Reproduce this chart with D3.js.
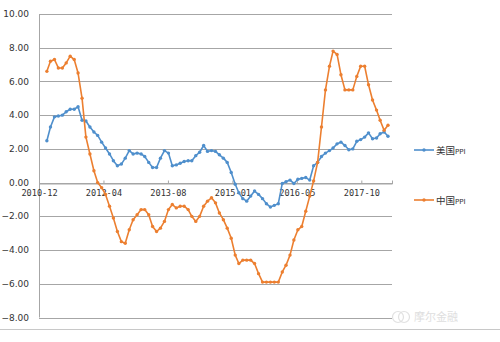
<!DOCTYPE html>
<html>
<head>
<meta charset="utf-8">
<script src="https://cdn.jsdelivr.net/npm/d3@7"></script>
<style>
  html, body { margin: 0; padding: 0; background: #fff; }
  svg { display: block; }
</style>
</head>
<body>
<svg id="chart" width="500" height="342"></svg>
<script>
// Monthly year-on-year PPI, Jan 2011 – Apr 2018
const firstMonth = "2011-01";
const monthCount = 88;

const usPPI = [
  2.48, 3.3, 3.9, 3.95, 4.0, 4.2, 4.35, 4.35, 4.5, 3.7, 3.65, 3.3,
  3.0, 2.8, 2.4, 2.05, 1.7, 1.3, 1.0, 1.1, 1.45, 1.9, 1.7, 1.75,
  1.7, 1.55, 1.2, 0.9, 0.9, 1.45, 1.9, 1.75, 1.0, 1.05, 1.15, 1.25,
  1.3, 1.3, 1.6, 1.8, 2.2, 1.85, 1.9, 1.85, 1.65, 1.45, 1.2, 0.6,
  -0.1, -0.6, -0.95, -1.1, -0.8, -0.5, -0.7, -0.95, -1.25, -1.45, -1.35, -1.25,
  -0.05, 0.05, 0.15, -0.05, 0.2, 0.25, 0.3, 0.15, 1.0, 1.2, 1.55, 1.75,
  1.9, 2.05, 2.3, 2.4, 2.2, 1.95, 2.0, 2.45, 2.55, 2.7, 2.95, 2.6,
  2.65, 2.9, 3.0, 2.75
];

const cnPPI = [
  6.6, 7.2, 7.3, 6.8, 6.8, 7.1, 7.5, 7.3, 6.5, 5.0, 2.7, 1.7,
  0.7, 0.0, -0.3, -0.7, -1.4, -2.1, -2.9, -3.5, -3.6, -2.8, -2.2, -1.9,
  -1.6, -1.6, -1.9, -2.6, -2.9, -2.7, -2.3, -1.6, -1.3, -1.5, -1.4, -1.4,
  -1.6, -2.0, -2.3, -2.0, -1.4, -1.1, -0.9, -1.2, -1.8, -2.2, -2.7, -3.3,
  -4.3, -4.8, -4.6, -4.6, -4.6, -4.8, -5.4, -5.9, -5.9, -5.9, -5.9, -5.9,
  -5.3, -4.9, -4.3, -3.4, -2.8, -2.6, -1.7, -0.8, 0.1, 1.2, 3.3, 5.5,
  6.9, 7.8, 7.6, 6.4, 5.5, 5.5, 5.5, 6.3, 6.9, 6.9, 5.8, 4.9,
  4.3, 3.7, 3.1, 3.4
];

const seriesNames = ["美国", "中国"];
const yTicks = [10, 8, 6, 4, 2, 0, -2, -4, -6, -8];
const xTickDates = ["2010-12-01", "2012-04-14", "2013-08-27", "2015-01-09", "2016-05-23", "2017-10-05"];
const xTickLabels = ["2010-12", "2012-04", "2013-08", "2015-01", "2016-05", "2017-10"];

const colors = { us: "#4f8fcc", cn: "#ec7f30" };

const parseDay = d3.timeParse("%Y-%m-%d");
const parseMonth = d3.timeParse("%Y-%m");
const start = parseMonth(firstMonth);
// each observation sits at the last day of its month
const dates = d3.range(monthCount).map(i => d3.timeDay.offset(d3.timeMonth.offset(start, i + 1), -1));

const svg = d3.select("#chart");

const x = d3.scaleTime()
  .domain([parseDay("2010-12-01"), parseDay("2018-05-31")])
  .range([39, 392]);
const y = d3.scaleLinear().domain([-8, 10]).range([317.5, 14]);

// horizontal gridlines
svg.append("g")
  .selectAll("line")
  .data(yTicks)
  .join("line")
  .attr("x1", x.range()[0]).attr("x2", x.range()[1])
  .attr("y1", d => Math.round(y(d)) + 0.5).attr("y2", d => Math.round(y(d)) + 0.5)
  .attr("stroke", "#a6a6a6").attr("stroke-width", 1);

// value axis line
svg.append("line")
  .attr("x1", x.range()[0] + 0.5).attr("x2", x.range()[0] + 0.5)
  .attr("y1", y(10)).attr("y2", y(-8))
  .attr("stroke", "#a6a6a6");

// value axis labels
svg.append("g")
  .selectAll("text")
  .data(yTicks)
  .join("text")
  .attr("x", 29)
  .attr("y", d => y(d))
  .attr("dy", "0.35em")
  .attr("text-anchor", "end")
  .attr("font-family", "DejaVu Sans, sans-serif")
  .attr("font-size", 9)
  .attr("fill", "#333")
  .text(d => d3.format(".2f")(d));

// date axis drawn on the zero line
const xAxis = d3.axisBottom(x)
  .tickValues(xTickDates.map(parseDay))
  .tickFormat((d, i) => xTickLabels[i])
  .tickSize(-3)
  .tickPadding(6);

const gx = svg.append("g")
  .attr("transform", `translate(0,${Math.round(y(0)) + 0.5})`)
  .call(xAxis);
gx.select(".domain").attr("stroke", "#a6a6a6");
gx.selectAll(".tick line").attr("stroke", "#a6a6a6");
gx.selectAll(".tick text")
  .attr("font-family", "DejaVu Sans Mono, monospace")
  .attr("font-size", 8.6)
  .attr("fill", "#333");

const line = d3.line()
  .x((d, i) => x(dates[i]))
  .y(d => y(d));

function drawSeries(values, color) {
  const g = svg.append("g");
  g.append("path")
    .datum(values)
    .attr("fill", "none")
    .attr("stroke", color)
    .attr("stroke-width", 1.6)
    .attr("stroke-linejoin", "round")
    .attr("d", line);
  g.selectAll("circle")
    .data(values)
    .join("circle")
    .attr("cx", (d, i) => x(dates[i]))
    .attr("cy", d => y(d))
    .attr("r", 1.7)
    .attr("fill", color);
}

drawSeries(usPPI, colors.us);
drawSeries(cnPPI, colors.cn);

// legend
const legend = [
  { name: seriesNames[0], color: colors.us, y: 150 },
  { name: seriesNames[1], color: colors.cn, y: 200 }
];
const lg = svg.append("g");
legend.forEach(item => {
  lg.append("line")
    .attr("x1", 414).attr("x2", 434)
    .attr("y1", item.y).attr("y2", item.y)
    .attr("stroke", item.color).attr("stroke-width", 1.6);
  lg.append("circle")
    .attr("cx", 424).attr("cy", item.y).attr("r", 1.7)
    .attr("fill", item.color);
  const t = lg.append("text")
    .attr("x", 436).attr("y", item.y + 3.5)
    .attr("font-family", "Noto Sans CJK SC, sans-serif")
    .attr("font-size", 9.5)
    .attr("fill", "#333");
  t.append("tspan").text(item.name);
  t.append("tspan").attr("font-size", 7).attr("font-family", "DejaVu Sans, sans-serif").text("PPI");
});

// frame rule along the bottom
svg.append("line")
  .attr("x1", 0).attr("x2", 500)
  .attr("y1", 329.5).attr("y2", 329.5)
  .attr("stroke", "#c8c8c8");

// publisher mark
const wm = svg.append("g").attr("opacity", 0.55);
wm.append("circle").attr("cx", 398).attr("cy", 317).attr("r", 5.5)
  .attr("fill", "none").attr("stroke", "#c9c9c9").attr("stroke-width", 1.2);
wm.append("circle").attr("cx", 404).attr("cy", 317).attr("r", 5.5)
  .attr("fill", "none").attr("stroke", "#c9c9c9").attr("stroke-width", 1.2);
wm.append("text")
  .attr("x", 414).attr("y", 321)
  .attr("font-family", "Noto Sans CJK SC, sans-serif")
  .attr("font-size", 11)
  .attr("fill", "#c4c4c4")
  .text("摩尔金融");
</script>
</body>
</html>
